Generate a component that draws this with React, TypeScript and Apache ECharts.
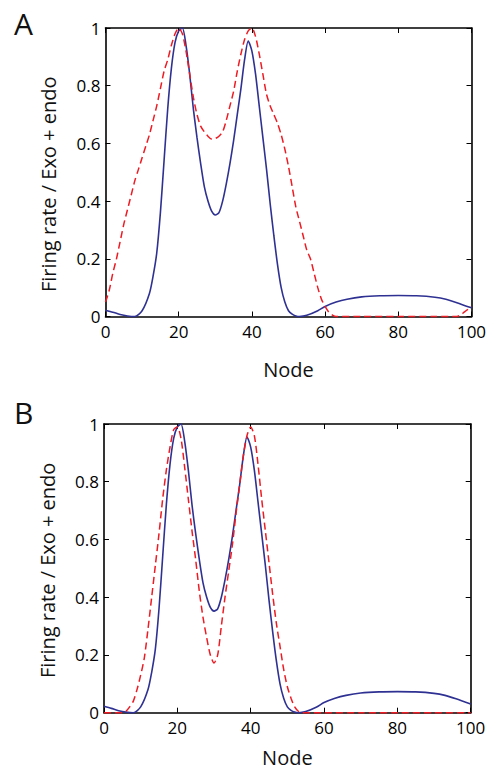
import React, { useEffect, useRef } from "react";
import * as echarts from "echarts";

// Node index (x) and firing-rate (y) readings
const blueX = [0, 2, 4, 6, 8, 10, 12, 13, 14, 15, 16, 17, 18, 19, 20, 21, 22, 23, 24, 25, 26, 27, 28, 29, 30, 31, 32, 33, 34, 35, 36, 37, 38, 39, 40, 41, 42, 43, 44, 45, 46, 47, 48, 49, 50, 51, 52, 53, 55, 58, 60, 63, 66, 70, 75, 80, 85, 90, 93, 96, 100];
const blueY = [0.022, 0.015, 0.007, 0.002, 0.0, 0.02, 0.08, 0.14, 0.22, 0.36, 0.54, 0.72, 0.86, 0.95, 0.99, 1.0, 0.94, 0.84, 0.72, 0.62, 0.53, 0.45, 0.4, 0.365, 0.352, 0.36, 0.4, 0.46, 0.53, 0.61, 0.7, 0.79, 0.89, 0.955, 0.92, 0.84, 0.73, 0.62, 0.51, 0.39, 0.28, 0.18, 0.1, 0.05, 0.02, 0.008, 0.002, 0.0, 0.004, 0.02, 0.035, 0.05, 0.06, 0.068, 0.072, 0.073, 0.072, 0.067, 0.06, 0.048, 0.03];

const redAX = [0, 1, 2, 3, 4, 5, 6, 7, 8, 9, 10, 11, 12, 13, 14, 15, 16, 17, 18, 19, 20, 21, 22, 23, 24, 25, 26, 27, 28, 29, 30, 31, 32, 33, 34, 35, 36, 37, 38, 39, 40, 41, 42, 43, 44, 45, 46, 47, 48, 49, 50, 51, 52, 53, 54, 55, 56, 57, 58, 59, 60, 61, 62, 63, 70, 80, 90, 96, 97, 98, 99, 100];
const redAY = [0.05, 0.09, 0.15, 0.2, 0.26, 0.32, 0.37, 0.42, 0.47, 0.51, 0.55, 0.59, 0.63, 0.68, 0.73, 0.79, 0.85, 0.89, 0.94, 0.98, 1.0, 0.98, 0.92, 0.84, 0.76, 0.7, 0.66, 0.64, 0.625, 0.615, 0.617, 0.625, 0.64, 0.68, 0.73, 0.78, 0.85, 0.91, 0.96, 0.99, 1.0, 0.97, 0.91, 0.84, 0.77, 0.73, 0.7, 0.67, 0.63, 0.58, 0.52, 0.45, 0.38, 0.33, 0.28, 0.23, 0.2, 0.15, 0.1, 0.06, 0.035, 0.015, 0.005, 0, 0, 0, 0, 0, 0.005, 0.015, 0.025, 0.035];

const redBX = [0, 5, 6, 7, 8, 9, 10, 11, 12, 13, 14, 15, 16, 17, 18, 19, 20, 21, 22, 23, 24, 25, 26, 27, 28, 29, 30, 31, 32, 33, 34, 35, 36, 37, 38, 39, 40, 41, 42, 43, 44, 45, 46, 47, 48, 49, 50, 51, 52, 53, 54, 60, 70, 80, 90, 100];
const redBY = [0, 0, 0.005, 0.02, 0.04, 0.08, 0.13, 0.19, 0.29, 0.4, 0.51, 0.62, 0.74, 0.84, 0.92, 0.98, 0.99, 0.95, 0.85, 0.74, 0.63, 0.53, 0.42, 0.33, 0.26, 0.2, 0.172, 0.2, 0.3, 0.4, 0.49, 0.58, 0.69, 0.79, 0.89, 0.96, 0.99, 0.96, 0.86, 0.74, 0.63, 0.52, 0.41, 0.31, 0.23, 0.15, 0.09, 0.05, 0.02, 0.005, 0, 0, 0, 0, 0, 0];

const xTicks = [0, 20, 40, 60, 80, 100];
const yTicks = [0, 0.2, 0.4, 0.6, 0.8, 1];
const panelLabels = ["A", "B"];
const xName = "Node";
const yName = "Firing rate / Exo + endo";

const FONT = "'Open Sans', 'Noto Sans', sans-serif";
const BLUE = "#2e3192";
const RED = "#ed1c24";

const zip = (xs: number[], ys: number[]) => xs.map((x, i) => [x, ys[i]]);

export default function App() {
  const ref = useRef<HTMLDivElement>(null);
  useEffect(() => {
    if (!ref.current) return;
    const chart = echarts.init(ref.current, undefined, { renderer: "svg" });
    const grids = [
      { left: 105.5, top: 28, width: 366, height: 288.5 },
      { left: 104, top: 424, width: 366.7, height: 288.7 },
    ];
    const nameGaps = [43, 35];
    const yNamePads = [[0, 24, 0, 0], [0, 4, 0, 0]];
    const axisLine = { show: true, onZero: false, lineStyle: { color: "#000", width: 1.6 } };
    const tick = { show: true, inside: true, length: 5, lineStyle: { color: "#000", width: 1 } };
    const xAxes: any[] = [];
    const yAxes: any[] = [];
    grids.forEach((_, g) => {
      xAxes.push({
        type: "value", gridIndex: g, min: xTicks[0], max: xTicks[xTicks.length - 1], interval: 20,
        position: "bottom", axisLine, axisTick: tick, splitLine: { show: false },
        axisLabel: { color: "#000", fontSize: 17, fontFamily: FONT, margin: 6 },
        name: xName, nameLocation: "middle", nameGap: nameGaps[g],
        nameTextStyle: { color: "#111", fontSize: 20, fontFamily: FONT },
      });
      xAxes.push({
        type: "value", gridIndex: g, min: 0, max: 100, interval: 20, position: "top",
        axisLine, axisTick: tick, axisLabel: { show: false }, splitLine: { show: false },
      });
      yAxes.push({
        type: "value", gridIndex: g, min: yTicks[0], max: yTicks[yTicks.length - 1], interval: 0.2,
        position: "left", axisLine, axisTick: tick, splitLine: { show: false },
        axisLabel: { color: "#000", fontSize: 17, fontFamily: FONT, margin: 5 },
        name: yName, nameLocation: "middle", nameGap: 47,
        nameTextStyle: { color: "#111", fontSize: 20, fontFamily: FONT, padding: yNamePads[g] },
      });
      yAxes.push({
        type: "value", gridIndex: g, min: 0, max: 1, interval: 0.2, position: "right",
        axisLine, axisTick: tick, axisLabel: { show: false }, splitLine: { show: false },
      });
    });
    const line = (g: number, data: number[][], color: string, dashed: boolean) => ({
      type: "line", xAxisIndex: g * 2, yAxisIndex: g * 2, data, showSymbol: false,
      smooth: 0.25, clip: false, z: 5,
      lineStyle: { color, width: dashed ? 1.5 : 1.6, type: dashed ? [7, 4] : "solid" },
    });
    chart.setOption({
      animation: false,
      backgroundColor: "#fff",
      grid: grids,
      xAxis: xAxes,
      yAxis: yAxes,
      series: [
        line(0, zip(blueX, blueY), BLUE, false),
        line(0, zip(redAX, redAY), RED, true),
        line(1, zip(blueX, blueY), BLUE, false),
        line(1, zip(redBX, redBY), RED, true),
      ],
      graphic: [
        { type: "text", left: 14, top: 8, style: { text: panelLabels[0], font: `30px ${FONT}`, fill: "#111" } },
        { type: "text", left: 14, top: 397, style: { text: panelLabels[1], font: `30px ${FONT}`, fill: "#111" } },
      ],
    });
    return () => chart.dispose();
  }, []);
  return <div ref={ref} style={{ position: "absolute", left: 0, top: 0, width: 490, height: 771 }} />;
}
